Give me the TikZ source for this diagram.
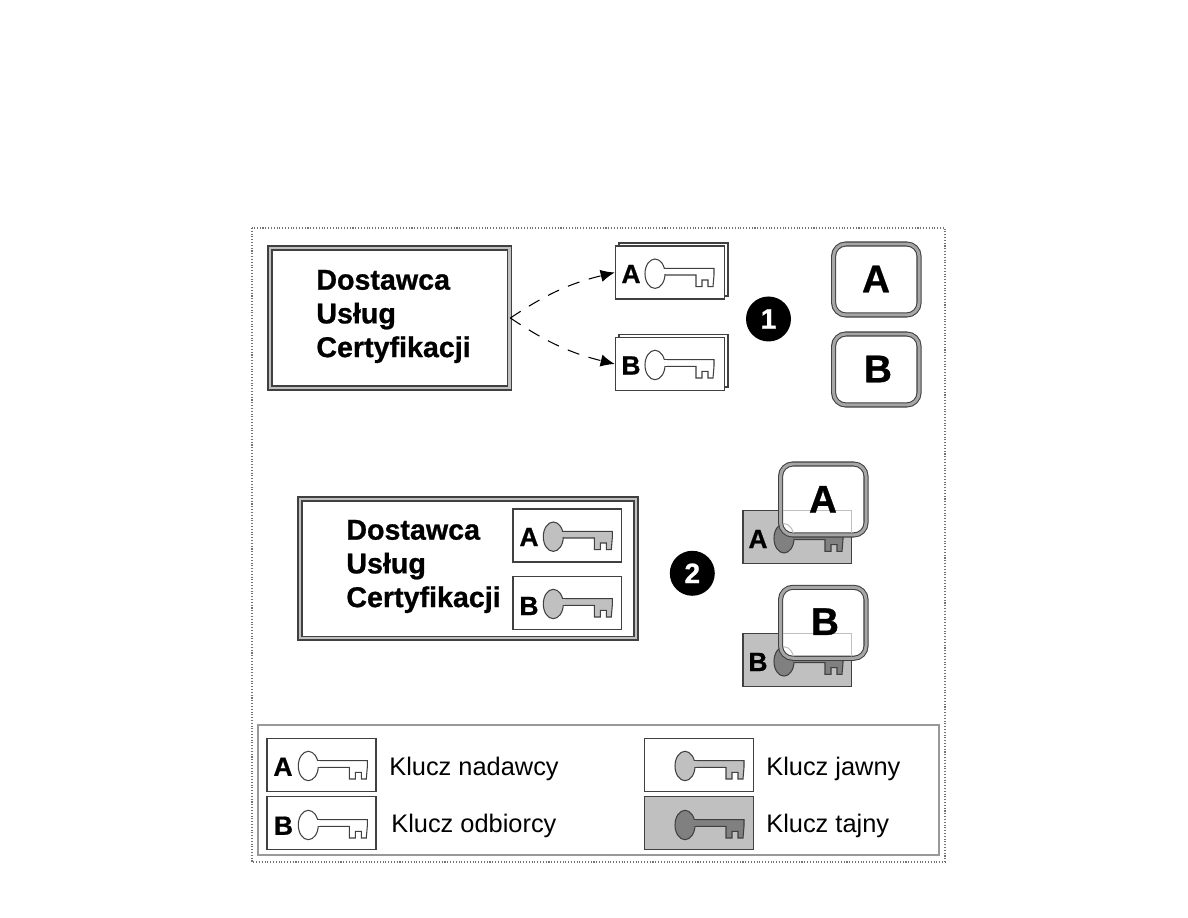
\documentclass[tikz,border=0pt]{standalone}
\usepackage{fontspec}
\setmainfont{Liberation Sans}[BoldFeatures={FakeBold=0.8}]
\usetikzlibrary{arrows.meta}

\definecolor{cardgray}{HTML}{C0C0C0}
\definecolor{secretgray}{HTML}{808080}
\definecolor{framedark}{HTML}{404040}

\tikzset{
    providerbox/.style={draw=framedark, line width=0.9pt, double=cardgray, double distance=1.2pt, inner sep=0pt},
    certbox/.style={draw=framedark, line width=0.9pt, fill=white, minimum width=2.18cm, minimum height=1.06cm, inner sep=0pt},
    secretbox/.style={certbox, fill=cardgray},
    ownerbox/.style={draw=framedark, line width=0.6pt, double=black!35, double distance=1.7pt, fill=white, rounded corners=7pt, minimum width=1.71cm, minimum height=1.42cm, inner sep=0pt},
    titletext/.style={font=\fontsize{16.3}{19.2}\selectfont\bfseries, align=left, anchor=west, inner sep=0pt},
    keyletter/.style={font=\fontsize{15}{15}\selectfont\bfseries, inner sep=0pt},
    ownerletter/.style={font=\fontsize{22}{22}\selectfont\bfseries, inner sep=0pt},
    steptag/.style={circle, fill=black, text=white, minimum size=0.9cm, inner sep=0pt, font=\fontsize{16}{16}\selectfont\bfseries},
    legendtext/.style={font=\fontsize{14.45}{14.45}\selectfont, anchor=base west, inner sep=0pt},
    pics/keyicon/.style={code={
        \draw[framedark, line width=0.6pt, fill=#1] (8,-5.3) -- (59,-5.3) -- (59,1.3) -- (58,13) -- (53,13) -- (53,6.3) -- (47,6.3) -- (47,13) -- (41,13) -- (41,1.3) -- (8,1.3) -- cycle;
        \draw[framedark, line width=0.6pt, fill=#1] (0,0) ellipse [x radius=10, y radius=14.7];
        \fill[#1] (7,-4.8) rectangle (12,0.8);
    }}
}

\begin{document}
\begin{tikzpicture}[x=0.02cm, y=-0.02cm]
    \useasboundingbox (0,0) rectangle (1188,918);
    \fill[white] (0,0) rectangle (1188,918);

    % Frame
    \draw[black!55, line width=0.6pt, densely dotted] (252,228) rectangle (945,862);

    % Step 1
    \node[providerbox, minimum width=4.79cm, minimum height=2.8cm] (provider1) at (389.8,318) {};
    \node[titletext] (providertext1) at (316,316.5) {Dostawca\\Usług\\Certyfikacji};

    \draw[framedark, line width=0.9pt, fill=white] (619,243) rectangle (728,296);
    \draw[framedark, line width=0.9pt, fill=white] (619,334.5) rectangle (728,387);
    \node[certbox] (certA) at (670,272.5) {};
    \node[certbox] (certB) at (670,364) {};
    \node[keyletter] (certletterA) at (631,274) {A};
    \node[keyletter] (certletterB) at (631,365.5) {B};
    \pic at (655,273.7) {keyicon=white};
    \pic at (655,365) {keyicon=white};

    \draw[dash pattern=on 7pt off 5.5pt, line width=0.6pt, -{Latex[length=8pt,width=7pt]}] (provider1.east) to[bend left=10] (certA.west);
    \draw[dash pattern=on 7pt off 5.5pt, line width=0.6pt, -{Latex[length=8pt,width=7pt]}] (provider1.east) to[bend right=10] (certB.west);

    \node[steptag] (tag1) at (768.5,319) {1};

    \node[ownerbox] (ownerA) at (876.3,279.5) {};
    \node[ownerbox] (ownerB) at (876.3,369.5) {};
    \node[ownerletter] (ownerletterA) at (876,279) {A};
    \node[ownerletter] (ownerletterB) at (878,369) {B};

    % Step 2
    \node[providerbox, minimum width=6.72cm, minimum height=2.79cm] (provider2) at (468,568.7) {};
    \node[titletext] (providertext2) at (346,566.5) {Dostawca\\Usług\\Certyfikacji};

    \node[certbox] (innerA) at (567.2,535.3) {};
    \node[certbox] (innerB) at (567.2,603) {};
    \node[keyletter] (innerletterA) at (529,537) {A};
    \node[keyletter] (innerletterB) at (529,606) {B};
    \pic at (553.3,536.7) {keyicon=cardgray};
    \pic at (553.3,604) {keyicon=cardgray};

    \node[steptag] (tag2) at (692.3,573.3) {2};

    % Secret cards under the owner boxes
    \node[secretbox] (cardA) at (797.2,536.8) {};
    \node[secretbox] (cardB) at (797.2,659.8) {};
    \node[keyletter] (cardletterA) at (758,539) {A};
    \node[keyletter] (cardletterB) at (758,662) {B};
    \pic at (784,538.3) {keyicon=secretgray};
    \pic at (784,661.4) {keyicon=secretgray};

    \node[ownerbox] (ownerA2) at (823.3,499.5) {};
    \node[ownerbox] (ownerB2) at (823.3,622.8) {};
    % Card outlines showing through
    \begin{scope}
        \clip[rounded corners=5pt] (783,466) rectangle (864,533);
        \draw[cardgray, line width=0.6pt] (742.7,510.3) rectangle (851.7,563.3);
        \draw[cardgray, line width=0.6pt] (784,538.3) ellipse [x radius=10, y radius=14.7];
    \end{scope}
    \begin{scope}
        \clip[rounded corners=5pt] (783,589.3) rectangle (864,656.3);
        \draw[cardgray, line width=0.6pt] (742.7,633.3) rectangle (851.7,686.3);
        \draw[cardgray, line width=0.6pt] (784,661.4) ellipse [x radius=10, y radius=14.7];
    \end{scope}
    \node[ownerletter] (ownerletterA2) at (823,499.3) {A};
    \node[ownerletter] (ownerletterB2) at (825,621.7) {B};

    % Legend
    \draw[black!40, line width=0.9pt] (258,725) rectangle (939,855);
    \node[certbox] (legendA) at (321.7,765) {};
    \node[certbox] (legendB) at (321.7,823.2) {};
    \node[certbox] (legendpublic) at (698.8,765) {};
    \node[secretbox] (legendsecret) at (698.8,823.2) {};
    \node[keyletter] (legendletterA) at (283,766.7) {A};
    \node[keyletter] (legendletterB) at (283.5,825.7) {B};
    \pic at (308.3,766) {keyicon=white};
    \pic at (308.3,825) {keyicon=white};
    \pic at (685,766) {keyicon=cardgray};
    \pic at (685,825) {keyicon=secretgray};
    \node[legendtext] (legendsender) at (389,776) {Klucz nadawcy};
    \node[legendtext] (legendreceiver) at (391,832.7) {Klucz odbiorcy};
    \node[legendtext] (legendopen) at (766,776) {Klucz jawny};
    \node[legendtext] (legendhidden) at (766,832.7) {Klucz tajny};
\end{tikzpicture}
\end{document}
